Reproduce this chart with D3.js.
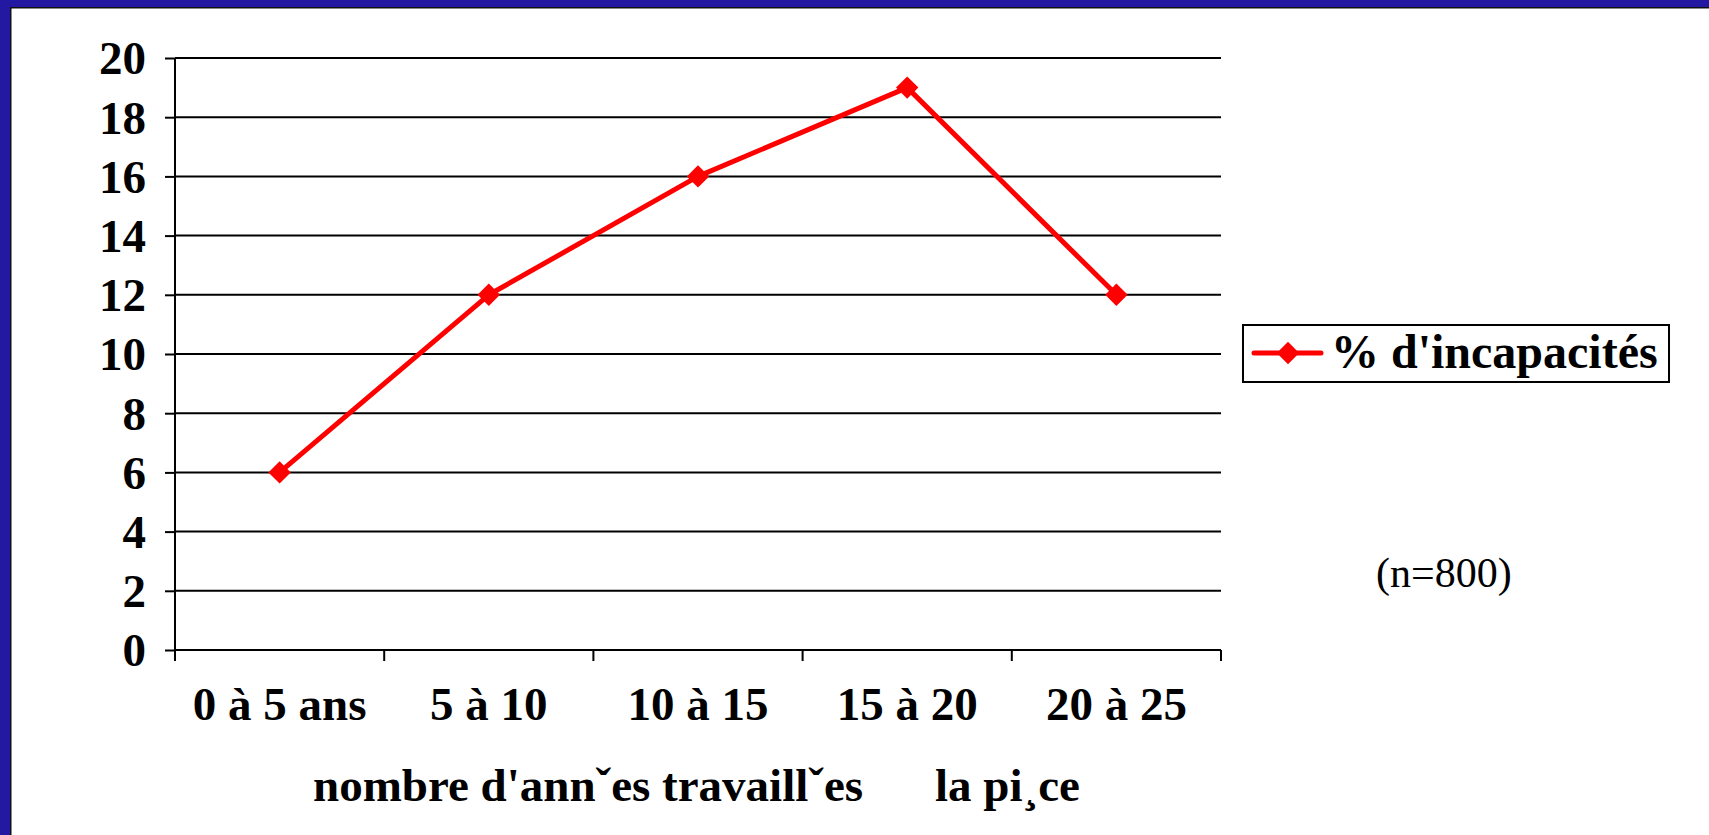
<!DOCTYPE html>
<html>
<head>
<meta charset="utf-8">
<script src="https://cdn.jsdelivr.net/npm/d3@7"></script>
<style>
  html, body { margin: 0; padding: 0; background: #fff; }
  svg { display: block; }
  text { font-family: "Liberation Serif", "Times New Roman", serif; }
</style>
</head>
<body>
<div id="chart"></div>
<script>
// Chart data
const categories = ["0 à 5 ans", "5 à 10", "10 à 15", "15 à 20", "20 à 25"];
const values = [6, 12, 16, 19, 12];
const yTicks = [0, 2, 4, 6, 8, 10, 12, 14, 16, 18, 20];
const seriesName = "% d'incapacités";
const xTitleParts = ["nombre d'annˇes travaillˇes", "la pi¸ce"];
const note = "(n=800)";

const width = 1709;
const height = 835;
const margin = { left: 175, right: 1221, top: 58, bottom: 650 };

const svg = d3.select("#chart")
    .append("svg")
    .attr("width", width)
    .attr("height", height);

// Blue frame on top and left
svg.append("rect").attr("x", 0).attr("y", 0).attr("width", width).attr("height", height).attr("fill", "#2218a2");
svg.append("rect").attr("x", 10).attr("y", 7).attr("width", width - 10).attr("height", height - 7).attr("fill", "#111");
svg.append("rect").attr("x", 11.5).attr("y", 8.5).attr("width", width).attr("height", height).attr("fill", "#fff");

// Scales
const xScale = d3.scaleBand()
    .domain(categories)
    .range([margin.left, margin.right]);

const yScale = d3.scaleLinear()
    .domain([0, 20])
    .range([margin.bottom, margin.top]);

// Gridlines
svg.append("g")
    .selectAll("line")
    .data(yTicks.filter(d => d > 0))
    .join("line")
    .attr("x1", margin.left)
    .attr("x2", margin.right)
    .attr("y1", d => yScale(d))
    .attr("y2", d => yScale(d))
    .attr("stroke", "#000")
    .attr("stroke-width", 2);

// Y axis
const yAxis = d3.axisLeft(yScale)
    .tickValues(yTicks)
    .tickSize(10)
    .tickPadding(19);
const gy = svg.append("g")
    .attr("transform", "translate(" + margin.left + ",0)")
    .call(yAxis);
gy.select(".domain").attr("stroke", "#000").attr("stroke-width", 2).attr("d", "M0," + margin.top + "V" + margin.bottom);
gy.selectAll(".tick line").attr("stroke", "#000").attr("stroke-width", 2);
gy.selectAll(".tick text")
    .attr("font-family", "Liberation Serif, Times New Roman, serif")
    .attr("font-size", 47)
    .attr("font-weight", "bold")
    .attr("fill", "#000")
    .attr("dy", "0.34em");

// X axis: ticks on category boundaries
const boundaries = categories.map(c => xScale(c)).concat([margin.right]);
const gx = svg.append("g");
gx.append("line")
    .attr("x1", margin.left).attr("x2", margin.right)
    .attr("y1", margin.bottom).attr("y2", margin.bottom)
    .attr("stroke", "#000").attr("stroke-width", 2);
gx.selectAll(".xt")
    .data(boundaries)
    .join("line")
    .attr("class", "xt")
    .attr("x1", d => d).attr("x2", d => d)
    .attr("y1", margin.bottom).attr("y2", margin.bottom + 11)
    .attr("stroke", "#000").attr("stroke-width", 2);
gx.selectAll("text")
    .data(categories)
    .join("text")
    .attr("x", d => xScale(d) + xScale.bandwidth() / 2)
    .attr("y", 720)
    .attr("text-anchor", "middle")
    .attr("font-size", 47)
    .attr("font-weight", "bold")
    .text(d => d);

// X title (gap where the accented "à" was lost)
const title = svg.append("text")
    .attr("y", 801)
    .attr("font-size", 47)
    .attr("font-weight", "bold");
title.append("tspan").attr("x", 313).text(xTitleParts[0]);
title.append("tspan").attr("x", 935).text(xTitleParts[1]);

// Line series
const points = categories.map((c, i) => [xScale(c) + xScale.bandwidth() / 2, yScale(values[i])]);
svg.append("path")
    .datum(points)
    .attr("fill", "none")
    .attr("stroke", "#ff0000")
    .attr("stroke-width", 5)
    .attr("stroke-linejoin", "round")
    .attr("d", d3.line());

const diamond = d3.symbol().type(d3.symbolDiamond2).size(320);
svg.selectAll(".marker")
    .data(points)
    .join("path")
    .attr("class", "marker")
    .attr("transform", d => "translate(" + d[0] + "," + d[1] + ")")
    .attr("d", diamond)
    .attr("fill", "#ff0000");

// Legend
const legend = svg.append("g");
legend.append("rect")
    .attr("x", 1243).attr("y", 325)
    .attr("width", 426).attr("height", 57)
    .attr("fill", "#fff").attr("stroke", "#000").attr("stroke-width", 2);
legend.append("line")
    .attr("x1", 1254).attr("x2", 1321)
    .attr("y1", 353).attr("y2", 353)
    .attr("stroke", "#ff0000").attr("stroke-width", 5)
    .attr("stroke-linecap", "round");
legend.append("path")
    .attr("transform", "translate(1288,353)")
    .attr("d", diamond)
    .attr("fill", "#ff0000");
legend.append("text")
    .attr("x", 1331).attr("y", 368)
    .attr("font-size", 48)
    .attr("font-weight", "bold")
    .text(seriesName);

// Sample size note
svg.append("text")
    .attr("x", 1376).attr("y", 587)
    .attr("font-size", 42)
    .text(note);
</script>
</body>
</html>
